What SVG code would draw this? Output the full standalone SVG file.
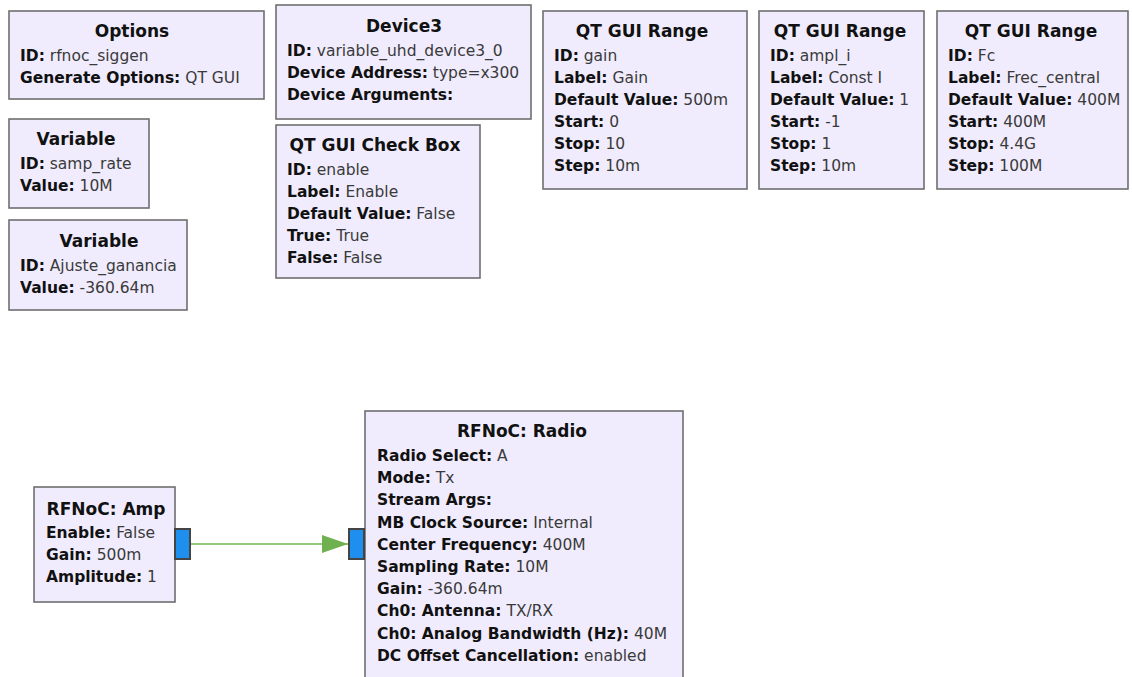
<svg xmlns="http://www.w3.org/2000/svg" width="1132" height="677" viewBox="0 0 1132 677">
<style>
.blk{fill:#f0ecfd;stroke:#6f6f6f;stroke-width:1.6}
text{font-family:"DejaVu Sans","Liberation Sans",sans-serif;font-size:15.5px;fill:#3a3a3a}
.t{font-weight:bold;fill:#111;text-anchor:middle;font-size:17px}
.k{font-weight:bold;fill:#111}
.port{fill:#1f8fef;stroke:#444;stroke-width:2}
.wire{stroke:#93c87c;stroke-width:2;fill:none}
</style>
<defs>
<marker id="arr" markerWidth="26" markerHeight="18" refX="26" refY="9" orient="auto" markerUnits="userSpaceOnUse">
<path d="M0,0 L26,9 L0,18 Z" fill="#6fb04f"/>
</marker>
</defs>
<rect width="1132" height="677" fill="#fff"/>

<g id="options">
<rect class="blk" x="9" y="11" width="255" height="88"/>
<text class="t" x="132" y="37">Options</text>
<text x="20" y="61"><tspan class="k">ID:</tspan> rfnoc_siggen</text>
<text x="20" y="83"><tspan class="k">Generate Options:</tspan> QT GUI</text>
</g>

<g id="device3">
<rect class="blk" x="276" y="5" width="255" height="114"/>
<text class="t" x="404" y="32">Device3</text>
<text x="287" y="56"><tspan class="k">ID:</tspan> variable_uhd_device3_0</text>
<text x="287" y="78"><tspan class="k">Device Address:</tspan> type=x300</text>
<text x="287" y="100"><tspan class="k">Device Arguments:</tspan></text>
</g>

<g id="var_samp_rate">
<rect class="blk" x="9" y="119" width="140" height="89"/>
<text class="t" x="76" y="145">Variable</text>
<text x="20" y="169"><tspan class="k">ID:</tspan> samp_rate</text>
<text x="20" y="191"><tspan class="k">Value:</tspan> 10M</text>
</g>

<g id="var_ajuste">
<rect class="blk" x="9" y="220" width="178" height="90"/>
<text class="t" x="99" y="247">Variable</text>
<text x="20" y="271"><tspan class="k">ID:</tspan> Ajuste_ganancia</text>
<text x="20" y="293"><tspan class="k">Value:</tspan> -360.64m</text>
</g>

<g id="checkbox_enable">
<rect class="blk" x="276" y="125" width="204" height="153"/>
<text class="t" x="375" y="151">QT GUI Check Box</text>
<text x="287" y="175"><tspan class="k">ID:</tspan> enable</text>
<text x="287" y="197"><tspan class="k">Label:</tspan> Enable</text>
<text x="287" y="219"><tspan class="k">Default Value:</tspan> False</text>
<text x="287" y="241"><tspan class="k">True:</tspan> True</text>
<text x="287" y="263"><tspan class="k">False:</tspan> False</text>
</g>

<g id="range_gain">
<rect class="blk" x="543" y="11" width="204" height="178"/>
<text class="t" x="642" y="37">QT GUI Range</text>
<text x="554" y="61"><tspan class="k">ID:</tspan> gain</text>
<text x="554" y="83"><tspan class="k">Label:</tspan> Gain</text>
<text x="554" y="105"><tspan class="k">Default Value:</tspan> 500m</text>
<text x="554" y="127"><tspan class="k">Start:</tspan> 0</text>
<text x="554" y="149"><tspan class="k">Stop:</tspan> 10</text>
<text x="554" y="171"><tspan class="k">Step:</tspan> 10m</text>
</g>

<g id="range_ampl_i">
<rect class="blk" x="759" y="11" width="165" height="178"/>
<text class="t" x="840" y="37">QT GUI Range</text>
<text x="770" y="61"><tspan class="k">ID:</tspan> ampl_i</text>
<text x="770" y="83"><tspan class="k">Label:</tspan> Const I</text>
<text x="770" y="105"><tspan class="k">Default Value:</tspan> 1</text>
<text x="770" y="127"><tspan class="k">Start:</tspan> -1</text>
<text x="770" y="149"><tspan class="k">Stop:</tspan> 1</text>
<text x="770" y="171"><tspan class="k">Step:</tspan> 10m</text>
</g>

<g id="range_fc">
<rect class="blk" x="937" y="11" width="191" height="178"/>
<text class="t" x="1031" y="37">QT GUI Range</text>
<text x="948" y="61"><tspan class="k">ID:</tspan> Fc</text>
<text x="948" y="83"><tspan class="k">Label:</tspan> Frec_central</text>
<text x="948" y="105"><tspan class="k">Default Value:</tspan> 400M</text>
<text x="948" y="127"><tspan class="k">Start:</tspan> 400M</text>
<text x="948" y="149"><tspan class="k">Stop:</tspan> 4.4G</text>
<text x="948" y="171"><tspan class="k">Step:</tspan> 100M</text>
</g>

<g id="connectors">
<line class="wire" x1="191" y1="544" x2="348" y2="544" marker-end="url(#arr)"/>
</g>

<g id="rfnoc_amp">
<rect class="blk" x="34" y="487" width="141" height="115"/>
<text class="t" x="106" y="515">RFNoC: Amp</text>
<text x="46" y="538"><tspan class="k">Enable:</tspan> False</text>
<text x="46" y="560"><tspan class="k">Gain:</tspan> 500m</text>
<text x="46" y="582"><tspan class="k">Amplitude:</tspan> 1</text>
<rect class="port" x="175" y="529" width="15" height="30"/>
</g>

<g id="rfnoc_radio">
<rect class="blk" x="365" y="411" width="318" height="285"/>
<text class="t" x="522" y="437">RFNoC: Radio</text>
<text x="377" y="461"><tspan class="k">Radio Select:</tspan> A</text>
<text x="377" y="483.2"><tspan class="k">Mode:</tspan> Tx</text>
<text x="377" y="505.4"><tspan class="k">Stream Args:</tspan></text>
<text x="377" y="527.6"><tspan class="k">MB Clock Source:</tspan> Internal</text>
<text x="377" y="549.8"><tspan class="k">Center Frequency:</tspan> 400M</text>
<text x="377" y="572"><tspan class="k">Sampling Rate:</tspan> 10M</text>
<text x="377" y="594.2"><tspan class="k">Gain:</tspan> -360.64m</text>
<text x="377" y="616.4"><tspan class="k">Ch0: Antenna:</tspan> TX/RX</text>
<text x="377" y="638.6"><tspan class="k">Ch0: Analog Bandwidth (Hz):</tspan> 40M</text>
<text x="377" y="660.8"><tspan class="k">DC Offset Cancellation:</tspan> enabled</text>
<rect class="port" x="349" y="529" width="15" height="30"/>
</g>
</svg>
